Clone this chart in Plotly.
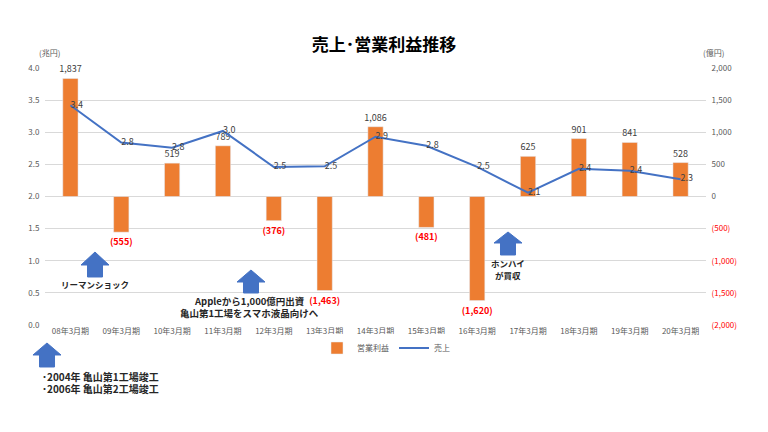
import plotly.graph_objects as go

# data
periods = ["08年3月期", "09年3月期", "10年3月期", "11年3月期", "12年3月期", "13年3月期", "14年3月期",
           "15年3月期", "16年3月期", "17年3月期", "18年3月期", "19年3月期", "20年3月期"]
sales = [3.42, 2.84, 2.76, 3.02, 2.46, 2.47, 2.93, 2.79, 2.46, 2.06, 2.43, 2.40, 2.27]  # 兆円
op_income = [1837, -555, 519, 789, -376, -1463, 1086, -481, -1620, 625, 901, 841, 528]  # 億円
right_ticks = [-2000, -1500, -1000, -500, 0, 500, 1000, 1500, 2000]

ORANGE = "#ED7D31"
BLUE = "#4472C4"
FONT = "Noto Sans CJK JP"


def fmt(v):
    return f"({abs(v):,})" if v < 0 else f"{v:,}"


bar_text = [f"<b>{fmt(v)}</b>" if v < 0 else fmt(v) for v in op_income]
bar_colors = ["#FF0000" if v < 0 else "#404040" for v in op_income]
right_text = [f"<span style='color:#FF0000'>{fmt(v)}</span>" if v < 0 else fmt(v) for v in right_ticks]

fig = go.Figure()
fig.add_trace(go.Bar(
    x=periods, y=op_income, name="営業利益", marker_color=ORANGE,
    text=bar_text, textposition="outside", cliponaxis=False, constraintext="none",
    textfont=dict(size=9, color=bar_colors), yaxis="y",
))
fig.add_trace(go.Scatter(
    x=periods, y=sales, name="売上", mode="lines+text", yaxis="y2",
    line=dict(color=BLUE, width=2), text=[f"{v:.1f}" for v in sales],
    textposition="middle right", textfont=dict(size=9, color="#404040"), cliponaxis=False,
))

# plot area in pixels (used to place the hand-drawn arrows and notes)
L, R, T, B = 45, 706, 68, 325
W, H = R - L, B - T


def px(x):
    return (x - L) / W


def py(y):
    return (B - y) / H


def arrow(cx, top, hb, sb, hw=28, sw=15):
    pts = [(cx, top), (cx + hw / 2, hb), (cx + sw / 2, hb), (cx + sw / 2, sb),
           (cx - sw / 2, sb), (cx - sw / 2, hb), (cx - hw / 2, hb)]
    path = "M " + " L ".join(f"{px(a):.4f},{py(b):.4f}" for a, b in pts) + " Z"
    return dict(type="path", xref="paper", yref="paper", path=path,
                fillcolor=BLUE, line=dict(color=BLUE, width=1))


shapes = [
    arrow(95, 252, 265, 277),
    arrow(251, 270, 282, 293),
    arrow(47, 343, 355, 367),
    arrow(508, 232, 243, 255),
]


def note(text, x, y, size=9, xanchor="center"):
    return dict(text=text, x=px(x), y=py(y), xref="paper", yref="paper", showarrow=False,
                xanchor=xanchor, yanchor="middle",
                font=dict(family=FONT, size=size, color="#262626", weight="bold"))


annotations = [
    note("リーマンショック", 95, 284, 8.5),
    note("Appleから1,000億円出資", 250, 301, 9.5),
    note("亀山第1工場をスマホ液晶向けへ", 250, 313, 9.5),
    note("ホンハイ", 508, 263, 8.5),
    note("が買収", 508, 275, 8.5),
    note("･2004年 亀山第1工場竣工", 40, 376, 10, xanchor="left"),
    note("･2006年 亀山第2工場竣工", 40, 388, 10, xanchor="left"),
    dict(text="(兆円)", x=px(37), y=py(45), xref="paper", yref="paper", showarrow=False,
         font=dict(family=FONT, size=8, color="#595959")),
    dict(text="(億円)", x=px(726), y=py(45), xref="paper", yref="paper", showarrow=False,
         font=dict(family=FONT, size=8, color="#595959")),
]

fig.update_layout(
    width=768, height=432,
    margin=dict(l=L, r=768 - R, t=T, b=432 - B, autoexpand=False),
    paper_bgcolor="white", plot_bgcolor="white",
    font=dict(family=FONT, size=8, color="#595959"),
    title=dict(text="売上･営業利益推移", x=0.5, xanchor="center", y=1 - 45 / 432, yanchor="middle",
               font=dict(family=FONT, size=17, color="#000000", weight="bold")),
    bargap=0.7,
    xaxis=dict(showgrid=False, showline=False, ticks="", automargin=False,
               range=[-0.5, len(periods) - 0.5],
               tickfont=dict(size=8, color="#595959")),
    yaxis=dict(side="right", range=[-2000, 2000], tickvals=right_ticks, ticktext=right_text,
               showgrid=True, gridcolor="#D9D9D9", gridwidth=1, zeroline=False, automargin=False,
               ticks="outside", ticklen=3, tickcolor="rgba(0,0,0,0)",
               tickfont=dict(size=8, color="#595959")),
    yaxis2=dict(side="left", overlaying="y", range=[0, 4], dtick=0.5, tickformat=".1f",
                showgrid=False, zeroline=False, automargin=False,
                ticks="outside", ticklen=3, tickcolor="rgba(0,0,0,0)",
                tickfont=dict(size=8, color="#595959")),
    legend=dict(orientation="h", x=px(386), y=py(348), xanchor="center", yanchor="middle",
                font=dict(size=8, color="#595959"), itemwidth=30),
    shapes=shapes,
    annotations=annotations,
    showlegend=True,
)

# the page's default body margin would shift the chart by 8px
fig.write_html("out.html", config={"displayModeBar": False},
               post_script="document.body.style.margin = '0';")
